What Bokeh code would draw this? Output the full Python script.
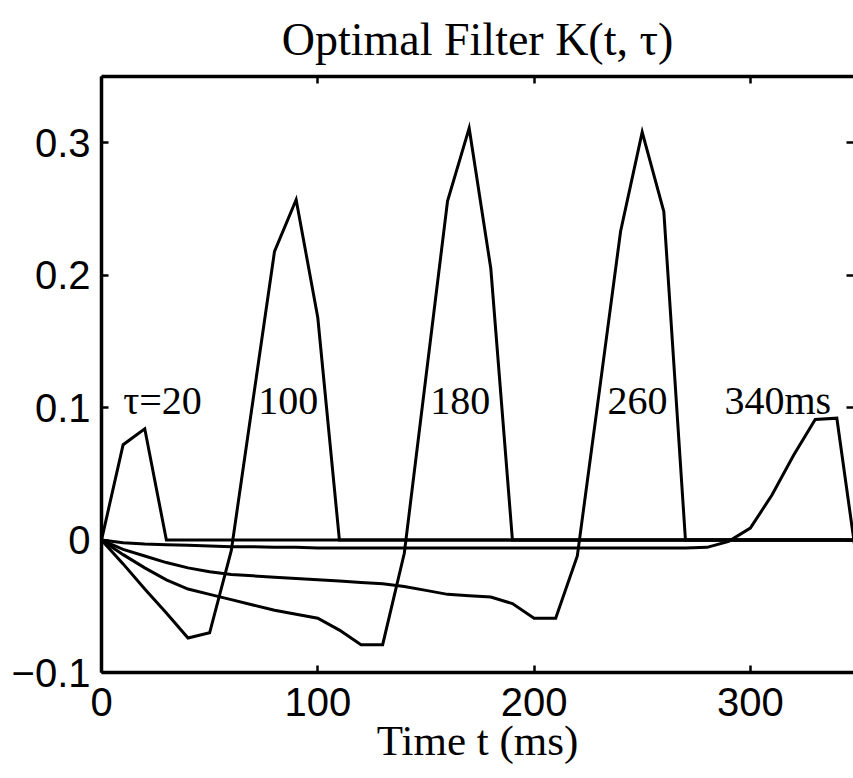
from bokeh.plotting import figure
from bokeh.models import (LinearAxis, FixedTicker, CustomJSTickFormatter, Range1d,
                          ColumnDataSource)
from bokeh.core.properties import value
from bokeh.embed import file_html
from bokeh.resources import INLINE

# ---------------- data ----------------
T_MS = [0, 10, 20, 30, 40, 50, 60, 70, 80, 90, 100, 110, 120, 130, 140, 150, 160, 170,
        180, 190, 200, 210, 220, 230, 240, 250, 260, 270, 280, 290, 300, 310, 320, 330,
        340, 350]

K_TAU_20 = [0.0, 0.072, 0.084, 0.0, 0.0, 0.0, 0.0, 0.0, 0.0, 0.0, 0.0, 0.0, 0.0, 0.0,
            0.0, 0.0, 0.0, 0.0, 0.0, 0.0, 0.0, 0.0, 0.0, 0.0, 0.0, 0.0, 0.0, 0.0, 0.0,
            0.0, 0.0, 0.0, 0.0, 0.0, 0.0, 0.0]

K_TAU_100 = [0.0, -0.018, -0.037, -0.055, -0.074, -0.070, -0.008, 0.105, 0.218, 0.257,
             0.168, 0.0, 0.0, 0.0, 0.0, 0.0, 0.0, 0.0, 0.0, 0.0, 0.0, 0.0, 0.0, 0.0,
             0.0, 0.0, 0.0, 0.0, 0.0, 0.0, 0.0, 0.0, 0.0, 0.0, 0.0, 0.0]

K_TAU_180 = [0.0, -0.011, -0.021, -0.030, -0.037, -0.041, -0.045, -0.049, -0.053, -0.056,
             -0.059, -0.068, -0.079, -0.079, -0.010, 0.123, 0.256, 0.311, 0.205, 0.0,
             0.0, 0.0, 0.0, 0.0, 0.0, 0.0, 0.0, 0.0, 0.0, 0.0, 0.0, 0.0, 0.0, 0.0,
             0.0, 0.0]

K_TAU_260 = [0.0, -0.007, -0.012, -0.017, -0.021, -0.024, -0.026, -0.027, -0.028, -0.029,
             -0.030, -0.031, -0.032, -0.033, -0.035, -0.038, -0.041, -0.042, -0.043,
             -0.048, -0.059, -0.059, -0.012, 0.110, 0.233, 0.308, 0.248, 0.0, 0.0, 0.0,
             0.0, 0.0, 0.0, 0.0, 0.0, 0.0]

K_TAU_340 = [0.0, -0.002, -0.003, -0.0035, -0.004, -0.0045, -0.005, -0.005, -0.0055,
             -0.0055, -0.006, -0.006, -0.006, -0.006, -0.006, -0.006, -0.006, -0.006,
             -0.006, -0.006, -0.006, -0.006, -0.006, -0.006, -0.006, -0.006, -0.006,
             -0.006, -0.0055, -0.001, 0.009, 0.034, 0.064, 0.091, 0.092, -0.025]

CURVE_LABELS = ["\u03c4=20", "100", "180", "260", "340ms"]
CURVE_LABEL_T = [10, 72.5, 152, 234, 288]
CURVE_LABEL_K = [0.105, 0.105, 0.105, 0.105, 0.105]

X_TICKS = [0, 100, 200, 300]
Y_TICKS = [-0.1, 0, 0.1, 0.2, 0.3]

TITLE = "Optimal Filter K(t, \u03c4)"
X_LABEL = "Time t (ms)"

# ---------------- figure ----------------
p = figure(width=853, height=776,
           x_range=Range1d(0, 347.7), y_range=Range1d(-0.1, 0.35),
           output_backend="svg", toolbar_location=None,
           min_border_left=101, min_border_right=0, min_border_top=75,
           min_border_bottom=104, x_axis_label=X_LABEL)
p.outline_line_color = None
p.background_fill_color = "white"
p.border_fill_color = "white"
p.xgrid.visible = False
p.ygrid.visible = False

p.title.text = TITLE
p.title.text_font = "Liberation Serif"
p.title.text_font_size = "46px"
p.title.text_font_style = "normal"
p.title.text_color = "black"
p.title.align = "center"
p.title.standoff = 23

yfmt = CustomJSTickFormatter(code="""
if (Math.abs(tick) < 1e-9) { return "0"; }
if (tick < 0) { return "\u2212" + Math.abs(tick).toFixed(1); }
return tick.toFixed(1);
""")
xfmt = CustomJSTickFormatter(code="return tick.toFixed(0);")
blank = CustomJSTickFormatter(code="return '';")

def style(ax, ticks, fmt):
    ax.ticker = FixedTicker(ticks=ticks)
    ax.formatter = fmt
    ax.axis_line_color = "black"
    ax.axis_line_width = 3.5
    ax.major_tick_line_color = "black"
    ax.major_tick_line_width = 2.5
    ax.major_tick_in = 7
    ax.major_tick_out = 0
    ax.minor_tick_line_color = None
    ax.major_label_text_font = "Liberation Sans"
    ax.major_label_text_font_size = "40px"
    ax.major_label_text_color = "black"

style(p.xaxis[0], X_TICKS, xfmt)
style(p.yaxis[0], Y_TICKS, yfmt)
p.xaxis[0].major_label_standoff = 15
p.yaxis[0].major_label_standoff = 11
p.xaxis[0].axis_label_text_font = "Liberation Serif"
p.xaxis[0].axis_label_text_font_size = "43px"
p.xaxis[0].axis_label_text_font_style = "normal"
p.xaxis[0].axis_label_text_color = "black"
p.xaxis[0].axis_label_standoff = -2

top = LinearAxis()
style(top, X_TICKS, blank)
top.major_label_standoff = 0
top.major_label_text_font_size = "1px"
p.add_layout(top, "above")

right = LinearAxis()
style(right, Y_TICKS, blank)
right.axis_line_color = None
right.major_label_standoff = 0
right.major_label_text_font_size = "1px"
p.add_layout(right, "right")

src = ColumnDataSource(dict(t=T_MS, k20=K_TAU_20, k100=K_TAU_100, k180=K_TAU_180,
                            k260=K_TAU_260, k340=K_TAU_340))
for col in ["k340", "k260", "k180", "k100", "k20"]:
    p.line(x="t", y=col, source=src, line_color="black", line_width=3,
           line_join="miter")

lab = ColumnDataSource(dict(x=CURVE_LABEL_T, y=CURVE_LABEL_K, text=CURVE_LABELS))
p.text(x="x", y="y", text="text", source=lab, text_font=value("Liberation Serif"),
       text_font_size="40px", text_color="black", text_baseline="alphabetic",
       text_align="left")

open("out.html", "w").write(file_html(p, INLINE))
